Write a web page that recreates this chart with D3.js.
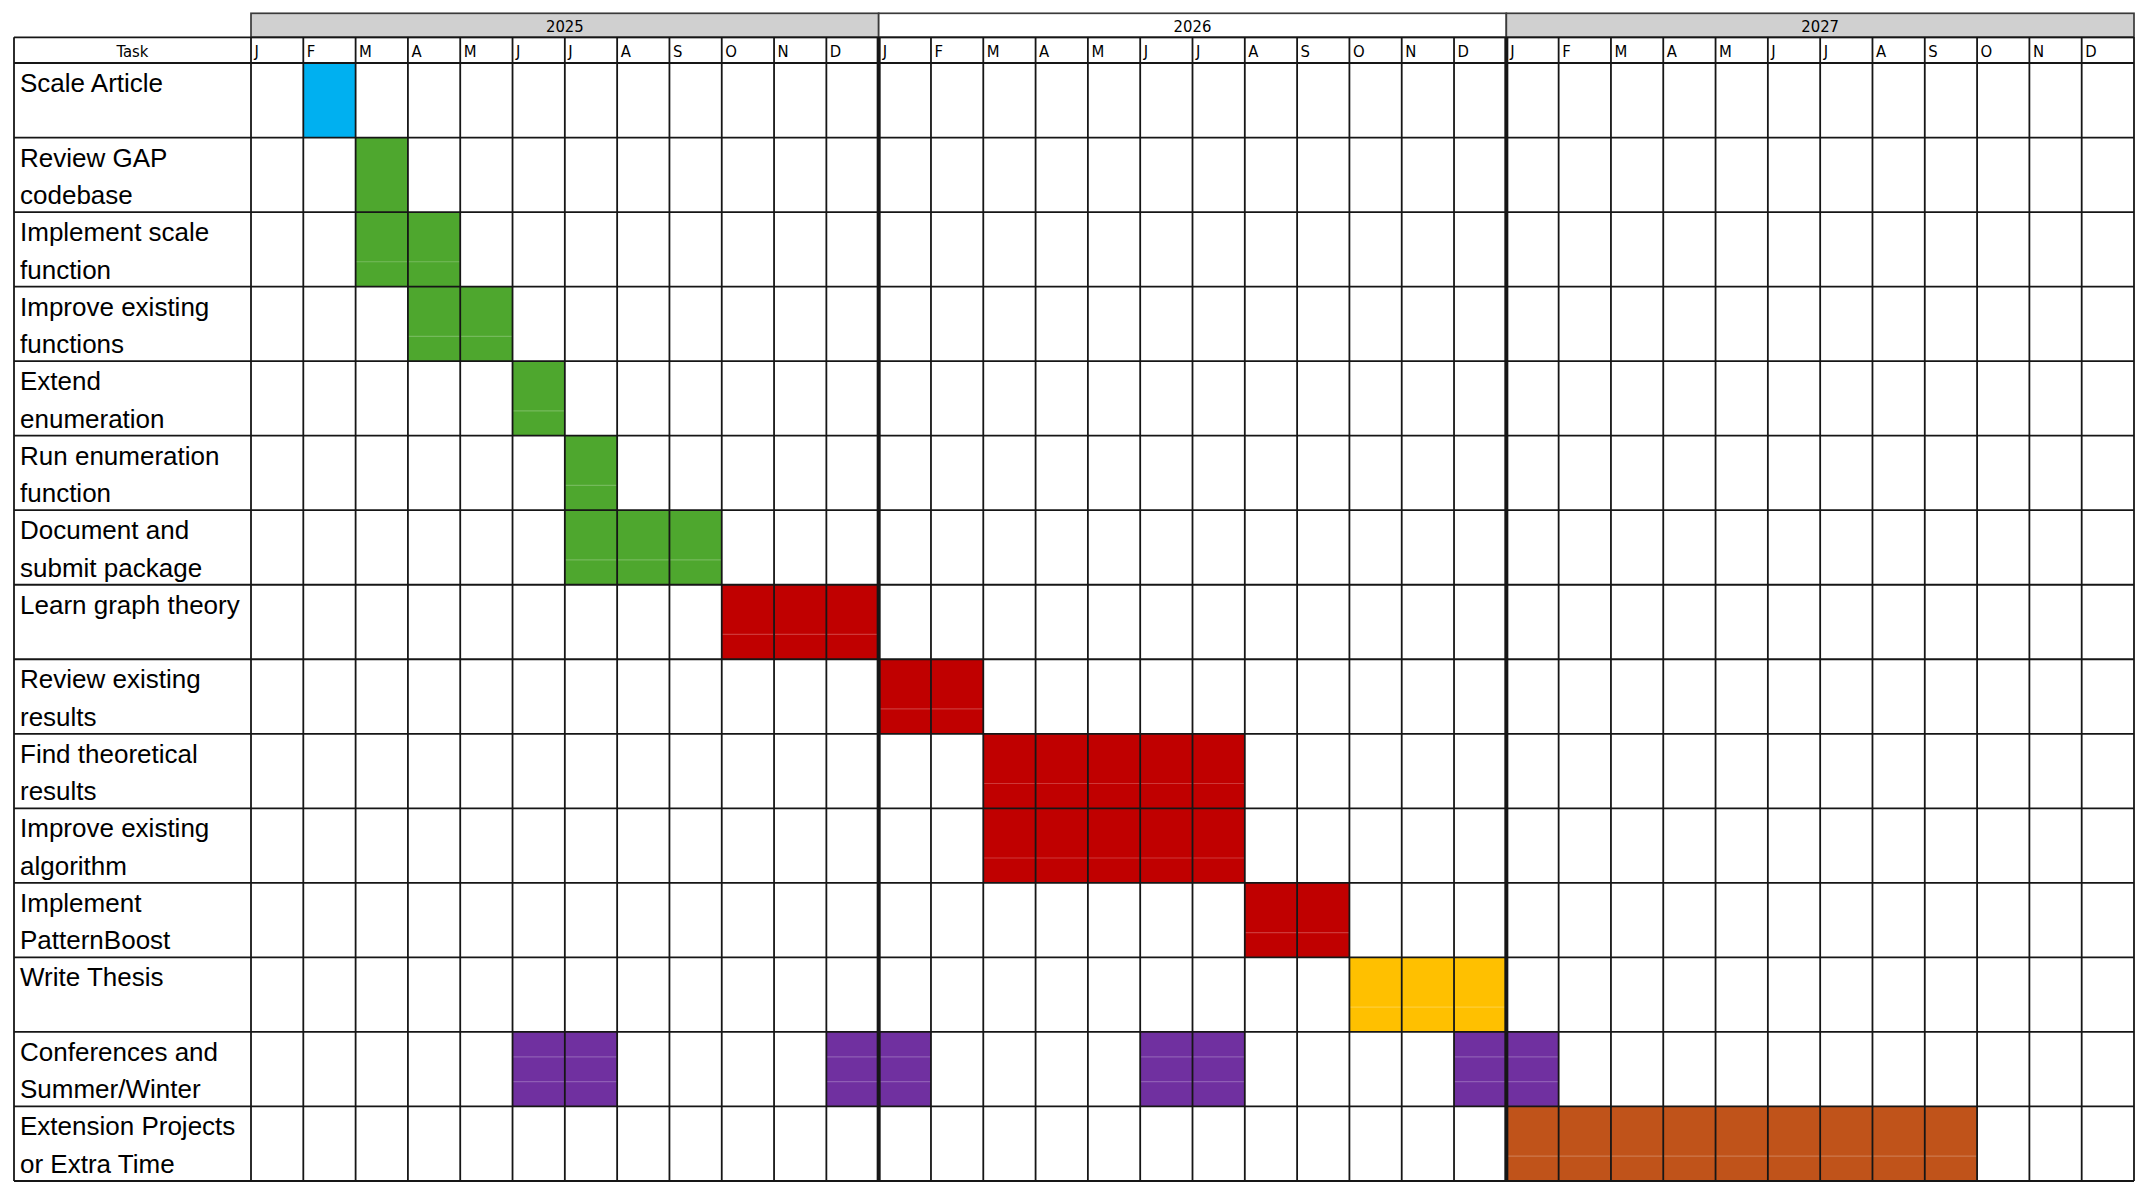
<!DOCTYPE html>
<html>
<head>
<meta charset="utf-8">
<script src="https://cdn.jsdelivr.net/npm/d3@7"></script>
<style>
  html, body { margin: 0; padding: 0; background: #fff; }
  svg { display: block; }
  .lbl { font-family: "Liberation Sans", Arial, sans-serif; font-size: 26px; fill: #000; }
  .hdr { font-family: "Liberation Sans Narrow", "DejaVu Sans Condensed", "Liberation Sans", sans-serif; font-size: 16.5px; fill: #000; }
</style>
</head>
<body>
<svg id="chart" width="2145" height="1189"></svg>
<script>
// ---------- data ----------
const years = ["2025", "2026", "2027"];
const monthLetters = ["J","F","M","A","M","J","J","A","S","O","N","D"];
const taskLabels = [
  ["Scale Article"],
  ["Review GAP", "codebase"],
  ["Implement scale", "function"],
  ["Improve existing", "functions"],
  ["Extend", "enumeration"],
  ["Run enumeration", "function"],
  ["Document and", "submit package"],
  ["Learn graph theory"],
  ["Review existing", "results"],
  ["Find theoretical", "results"],
  ["Improve existing", "algorithm"],
  ["Implement", "PatternBoost"],
  ["Write Thesis"],
  ["Conferences and", "Summer/Winter"],
  ["Extension Projects", "or Extra Time"]
];
// month index counted from Jan 2025 (0) ; [start, end] inclusive
const taskSpans = [
  [[1, 1]],
  [[2, 2]],
  [[2, 3]],
  [[3, 4]],
  [[5, 5]],
  [[6, 6]],
  [[6, 8]],
  [[9, 11]],
  [[12, 13]],
  [[14, 18]],
  [[14, 18]],
  [[19, 20]],
  [[21, 23]],
  [[5, 6], [11, 12], [17, 18], [23, 24]],
  [[24, 32]]
];
const taskGroups = ["article","code","code","code","code","code","code","theory","theory","theory","theory","theory","thesis","conf","extra"];
const groupNames = ["article","code","theory","thesis","conf","extra"];
const groupColors = ["#00B0F0","#4EA72E","#C00000","#FFC000","#7030A0","#C0531A"];

// ---------- layout ----------
const svg = d3.select("#chart");
const gridLeft = 14, timeLeft = 251, timeRight = 2134;
const yearTop = 13.3, monthTop = 37.3, bodyTop = 63, bodyBottom = 1181;
const nMonths = years.length * 12;

const x = d3.scaleLinear().domain([0, nMonths]).range([timeLeft, timeRight]);
const y = d3.scaleBand().domain(d3.range(taskLabels.length)).range([bodyTop, bodyBottom]).padding(0);
const color = d3.scaleOrdinal().domain(groupNames).range(groupColors);
const rh = y.bandwidth();

const lineCol = "#161616", lw = 1.8;

// ---------- year header ----------
const yg = svg.append("g");
yg.selectAll("rect").data(years).join("rect")
  .attr("x", (d, i) => x(i * 12)).attr("y", yearTop)
  .attr("width", x(12) - x(0)).attr("height", monthTop - yearTop)
  .attr("fill", (d, i) => i % 2 === 0 ? "#d0d0d0" : "#ffffff")
  .attr("stroke", "#3a3a3a").attr("stroke-width", 1.7);
yg.selectAll("text").data(years).join("text")
  .attr("class", "hdr")
  .attr("x", (d, i) => (x(i * 12) + x(i * 12 + 12)) / 2)
  .attr("y", 32)
  .attr("text-anchor", "middle")
  .text(d => d);

// ---------- bars ----------
const cells = [];
taskSpans.forEach((spans, ti) => {
  spans.forEach(([s, e]) => { cells.push({ ti, s, e, g: taskGroups[ti] }); });
});
const bg = svg.append("g");
bg.selectAll("rect").data(cells).join("rect")
  .attr("x", d => x(d.s)).attr("y", d => y(d.ti))
  .attr("width", d => x(d.e + 1) - x(d.s)).attr("height", rh)
  .attr("fill", d => color(d.g));

// faint sub-row lines inside filled cells (spreadsheet merged rows)
const faint = [];
cells.forEach(d => {
  if (d.ti < 2) return;
  const fr = d.g === "conf" ? [1/3, 2/3] : [2/3];
  fr.forEach(f => faint.push({ d, f }));
});
bg.selectAll("line").data(faint).join("line")
  .attr("x1", o => x(o.d.s)).attr("x2", o => x(o.d.e + 1))
  .attr("y1", o => y(o.d.ti) + rh * o.f).attr("y2", o => y(o.d.ti) + rh * o.f)
  .attr("stroke", "rgba(255,255,255,0.22)").attr("stroke-width", 1.2);

// ---------- grid ----------
const gg = svg.append("g");
const hLines = [monthTop].concat(d3.range(taskLabels.length + 1).map(i => i < taskLabels.length ? y(i) : bodyBottom));
gg.selectAll("line.h").data(hLines).join("line").attr("class", "h")
  .attr("x1", gridLeft).attr("x2", timeRight)
  .attr("y1", d => d).attr("y2", d => d)
  .attr("stroke", lineCol).attr("stroke-width", lw);
gg.selectAll("line.v").data(d3.range(nMonths + 1)).join("line").attr("class", "v")
  .attr("x1", d => x(d)).attr("x2", d => x(d))
  .attr("y1", monthTop).attr("y2", bodyBottom)
  .attr("stroke", lineCol)
  .attr("stroke-width", d => (d % 12 === 0 && d > 0 && d < nMonths) ? 4 : lw);
gg.append("line")
  .attr("x1", gridLeft).attr("x2", gridLeft).attr("y1", monthTop).attr("y2", bodyBottom)
  .attr("stroke", lineCol).attr("stroke-width", lw);

// ---------- header texts ----------
svg.append("text").attr("class", "hdr")
  .attr("x", (gridLeft + timeLeft) / 2).attr("y", 57)
  .attr("text-anchor", "middle").text("Task");
svg.append("g").selectAll("text").data(d3.range(nMonths)).join("text")
  .attr("class", "hdr")
  .attr("x", d => x(d) + (d % 12 === 0 && d > 0 ? 4 : 3.5))
  .attr("y", 57)
  .text(d => monthLetters[d % 12]);

// ---------- task labels ----------
const lg = svg.append("g");
taskLabels.forEach((lines, i) => {
  const t = lg.append("text").attr("class", "lbl");
  lines.forEach((ln, k) => {
    t.append("tspan").attr("x", gridLeft + 6).attr("y", y(i) + 29 + k * 37.5).text(ln);
  });
});
</script>
</body>
</html>
